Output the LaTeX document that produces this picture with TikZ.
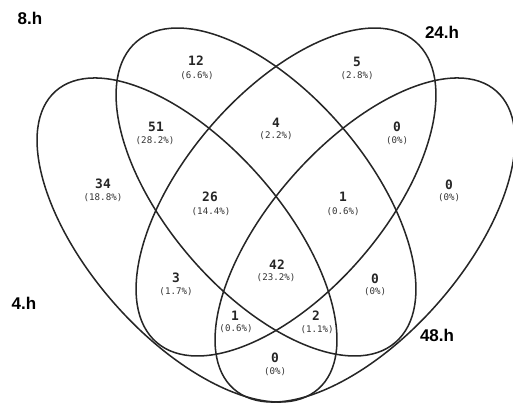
\documentclass[tikz,border=0pt]{standalone}
\usepackage{fontspec}
\newfontfamily\vennmono{DejaVu Sans Mono}
\newfontfamily\vennsans{Liberation Sans}

\begin{document}
\begin{tikzpicture}[
    scale=0.03,
    set/.style={line width=1.3pt, draw=black!85},
    count/.style={font=\vennmono\bfseries\fontsize{11}{13}\selectfont, text=black!85, inner sep=0pt},
    pct/.style={font=\vennmono\fontsize{7.8}{9}\selectfont, text=black!80, inner sep=0pt},
    setlabel/.style={font=\vennsans\bfseries\fontsize{14.5}{17}\selectfont, inner sep=0pt}
]
\useasboundingbox (0,0) rectangle (513,406);

% --- Sets ---
\draw[set] (187,166) ellipse [x radius=198.6, y radius=96.5, rotate=-48.6]; % 4.h
\draw[set] (266,214) ellipse [x radius=198.5, y radius=100, rotate=-49.3];  % 8.h
\draw[set] (286,214) ellipse [x radius=198.5, y radius=100, rotate=49.3];   % 24.h
\draw[set] (365,166) ellipse [x radius=198.6, y radius=96.5, rotate=48.6];  % 48.h

% --- Set labels ---
\node[setlabel] (lab8)  at (30,388)  {8.h};
\node[setlabel] (lab24) at (442,374) {24.h};
\node[setlabel] (lab4)  at (24,103)  {4.h};
\node[setlabel] (lab48) at (437,71)  {48.h};

% --- Regions: count and share ---
% only one set
\node[count] (c34) at (103,222) {34}; \node[pct] (p34) at (103,208) {(18.8\%)};
\node[count] (c12) at (196,345) {12}; \node[pct] (p12) at (197,330) {(6.6\%)};
\node[count] (c5)  at (357,344) {5};  \node[pct] (p5)  at (357,330) {(2.8\%)};
\node[count] (c0r) at (449,221) {0};  \node[pct] (p0r) at (449,208) {(0\%)};

% two sets
\node[count] (c51) at (156,279) {51}; \node[pct] (p51) at (155,265) {(28.2\%)};
\node[count] (c4)  at (276,283) {4};  \node[pct] (p4)  at (276,270) {(2.2\%)};
\node[count] (c0u) at (397,279) {0};  \node[pct] (p0u) at (397,265) {(0\%)};
\node[count] (c3)  at (176,128) {3};  \node[pct] (p3)  at (176,114) {(1.7\%)};
\node[count] (c0m) at (375,127) {0};  \node[pct] (p0m) at (375,114) {(0\%)};
\node[count] (c0b) at (275,48)  {0};  \node[pct] (p0b) at (275,34)  {(0\%)};

% three sets
\node[count] (c26) at (210,209) {26}; \node[pct] (p26) at (211,194) {(14.4\%)};
\node[count] (c1u) at (343,209) {1};  \node[pct] (p1u) at (343,194) {(0.6\%)};
\node[count] (c1l) at (235,90)  {1};  \node[pct] (p1l) at (236,77)  {(0.6\%)};
\node[count] (c2)  at (316,90)  {2};  \node[pct] (p2)  at (317,76)  {(1.1\%)};

% all four
\node[count] (c42) at (277,141) {42}; \node[pct] (p42) at (276,128) {(23.2\%)};

\end{tikzpicture}
\end{document}
